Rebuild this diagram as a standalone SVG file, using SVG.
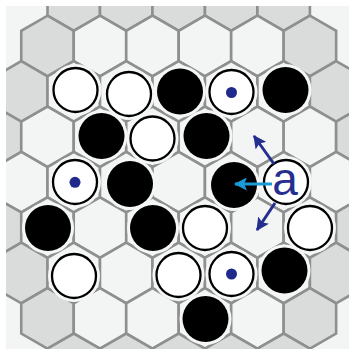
<svg xmlns="http://www.w3.org/2000/svg" xmlns:xlink="http://www.w3.org/1999/xlink" width="355" height="349" viewBox="0 0 355 349">
<style>
.g{fill:#dadbdb;stroke:#8e8f8f;stroke-width:2.6}
.l{fill:#f3f4f4;stroke:#8e8f8f;stroke-width:2.6}
.halo{fill:#f5f6f6}
.w{fill:#ffffff;stroke:#000;stroke-width:2.3}
.b{fill:#000}
.dot{fill:#202a8c}
.ab{stroke:#232e8f;stroke-width:3;fill:none}
.lb{stroke:#1c9ad8;stroke-width:3;fill:none}
.lbl{font-family:"Liberation Sans",Arial,sans-serif;font-size:46px;fill:#262f8f;text-anchor:middle}
</style>
<defs>
<polygon id="hex" points="0,-30.3 26.24,-15.15 26.24,15.15 0,30.3 -26.24,15.15 -26.24,-15.15"/>
<clipPath id="clip"><rect x="6" y="6" width="343" height="343"/></clipPath>
<marker id="mDark" viewBox="0 0 12 12" refX="11" refY="6" markerWidth="13" markerHeight="13" markerUnits="userSpaceOnUse" orient="auto"><path d="M0,0 L12,6 L0,12 L2.5,6 z" fill="#232e8f"/></marker>
<marker id="mLight" viewBox="0 0 12 12" refX="11" refY="6" markerWidth="13" markerHeight="13" markerUnits="userSpaceOnUse" orient="auto"><path d="M0,0 L12,6 L0,12 L2.5,6 z" fill="#1c9ad8"/></marker>
</defs>
<rect width="355" height="349" fill="#ffffff"/>
<g id="board" clip-path="url(#clip)">
<rect x="0" y="0" width="355" height="349" fill="#f3f4f4"/>
<use xlink:href="#hex" class="g" x="73.74" y="0.6"/><use xlink:href="#hex" class="g" x="126.22" y="0.6"/><use xlink:href="#hex" class="g" x="178.7" y="0.6"/><use xlink:href="#hex" class="g" x="231.18" y="0.6"/><use xlink:href="#hex" class="g" x="283.66" y="0.6"/>
<use xlink:href="#hex" class="g" x="47.5" y="46"/><use xlink:href="#hex" class="l" x="99.98" y="46"/><use xlink:href="#hex" class="l" x="152.46" y="46"/><use xlink:href="#hex" class="l" x="204.94" y="46"/><use xlink:href="#hex" class="l" x="257.42" y="46"/><use xlink:href="#hex" class="g" x="309.9" y="46"/>
<use xlink:href="#hex" class="g" x="21.26" y="91.4"/><use xlink:href="#hex" class="l" x="73.74" y="91.4"/><use xlink:href="#hex" class="l" x="126.22" y="91.4"/><use xlink:href="#hex" class="l" x="178.7" y="91.4"/><use xlink:href="#hex" class="l" x="231.18" y="91.4"/><use xlink:href="#hex" class="l" x="283.66" y="91.4"/><use xlink:href="#hex" class="g" x="336.14" y="91.4"/>
<use xlink:href="#hex" class="g" x="-4.98" y="136.8"/><use xlink:href="#hex" class="l" x="47.5" y="136.8"/><use xlink:href="#hex" class="l" x="99.98" y="136.8"/><use xlink:href="#hex" class="l" x="152.46" y="136.8"/><use xlink:href="#hex" class="l" x="204.94" y="136.8"/><use xlink:href="#hex" class="l" x="257.42" y="136.8"/><use xlink:href="#hex" class="l" x="309.9" y="136.8"/><use xlink:href="#hex" class="g" x="362.38" y="136.8"/>
<use xlink:href="#hex" class="g" x="-31.22" y="182.2"/><use xlink:href="#hex" class="l" x="21.26" y="182.2"/><use xlink:href="#hex" class="l" x="73.74" y="182.2"/><use xlink:href="#hex" class="l" x="126.22" y="182.2"/><use xlink:href="#hex" class="l" x="178.7" y="182.2"/><use xlink:href="#hex" class="l" x="231.18" y="182.2"/><use xlink:href="#hex" class="l" x="283.66" y="182.2"/><use xlink:href="#hex" class="l" x="336.14" y="182.2"/><use xlink:href="#hex" class="g" x="388.62" y="182.2"/>
<use xlink:href="#hex" class="g" x="-4.98" y="227.6"/><use xlink:href="#hex" class="l" x="47.5" y="227.6"/><use xlink:href="#hex" class="l" x="99.98" y="227.6"/><use xlink:href="#hex" class="l" x="152.46" y="227.6"/><use xlink:href="#hex" class="l" x="204.94" y="227.6"/><use xlink:href="#hex" class="l" x="257.42" y="227.6"/><use xlink:href="#hex" class="l" x="309.9" y="227.6"/><use xlink:href="#hex" class="g" x="362.38" y="227.6"/>
<use xlink:href="#hex" class="g" x="21.26" y="273"/><use xlink:href="#hex" class="l" x="73.74" y="273"/><use xlink:href="#hex" class="l" x="126.22" y="273"/><use xlink:href="#hex" class="l" x="178.7" y="273"/><use xlink:href="#hex" class="l" x="231.18" y="273"/><use xlink:href="#hex" class="l" x="283.66" y="273"/><use xlink:href="#hex" class="g" x="336.14" y="273"/>
<use xlink:href="#hex" class="g" x="47.5" y="318.4"/><use xlink:href="#hex" class="l" x="99.98" y="318.4"/><use xlink:href="#hex" class="l" x="152.46" y="318.4"/><use xlink:href="#hex" class="l" x="204.94" y="318.4"/><use xlink:href="#hex" class="l" x="257.42" y="318.4"/><use xlink:href="#hex" class="g" x="309.9" y="318.4"/>
<use xlink:href="#hex" class="g" x="73.74" y="363.8"/><use xlink:href="#hex" class="g" x="126.22" y="363.8"/><use xlink:href="#hex" class="g" x="178.7" y="363.8"/><use xlink:href="#hex" class="g" x="231.18" y="363.8"/><use xlink:href="#hex" class="g" x="283.66" y="363.8"/>
</g>
<g id="halos" clip-path="url(#clip)">
<circle class="halo" cx="75.5" cy="90" r="26"/><circle class="halo" cx="129" cy="94" r="26"/><circle class="halo" cx="180" cy="91.5" r="26"/><circle class="halo" cx="231.5" cy="92" r="26"/><circle class="halo" cx="285.5" cy="90" r="26"/>
<circle class="halo" cx="101.5" cy="136" r="26"/><circle class="halo" cx="152.5" cy="138.5" r="26"/><circle class="halo" cx="206.5" cy="136" r="26"/>
<circle class="halo" cx="75" cy="182" r="26"/><circle class="halo" cx="130" cy="184" r="26"/><circle class="halo" cx="234" cy="185" r="26"/><circle class="halo" cx="286" cy="182" r="26"/>
<circle class="halo" cx="48" cy="228" r="26"/><circle class="halo" cx="153" cy="228" r="26"/><circle class="halo" cx="205" cy="228" r="26"/><circle class="halo" cx="310" cy="228" r="26"/>
<circle class="halo" cx="74" cy="276" r="26"/><circle class="halo" cx="178.5" cy="275" r="26"/><circle class="halo" cx="231.5" cy="274" r="26"/><circle class="halo" cx="284.5" cy="270.5" r="26"/>
<circle class="halo" cx="205.5" cy="319" r="26"/>
</g>
<g id="stone-r2">
<circle class="w" cx="75.5" cy="90" r="22"/><circle class="w" cx="129" cy="94" r="22"/><circle class="b" cx="180" cy="91.5" r="23"/><circle class="w" cx="231.5" cy="92" r="22"/><circle class="dot" cx="231.5" cy="92.5" r="5.5"/><circle class="b" cx="285.5" cy="90" r="23"/>
</g>
<g id="stone-r3">
<circle class="b" cx="101.5" cy="136" r="23"/><circle class="w" cx="152.5" cy="138.5" r="22"/><circle class="b" cx="206.5" cy="136" r="23"/>
</g>
<g id="stone-r4">
<circle class="w" cx="75" cy="182" r="22"/><circle class="dot" cx="75" cy="182.3" r="5.5"/><circle class="b" cx="130" cy="184" r="23"/><circle class="b" cx="234" cy="185" r="23"/><circle class="w" cx="286" cy="182" r="22"/>
</g>
<g id="stone-r5">
<circle class="b" cx="48" cy="228" r="23"/><circle class="b" cx="153" cy="228" r="23"/><circle class="w" cx="205" cy="228" r="22"/><circle class="w" cx="310" cy="228" r="22"/>
</g>
<g id="stone-r6">
<circle class="w" cx="74" cy="276" r="22"/><circle class="w" cx="178.5" cy="275" r="22"/><circle class="w" cx="231.5" cy="274" r="22"/><circle class="dot" cx="231.5" cy="274" r="5.5"/><circle class="b" cx="284.5" cy="270.5" r="23"/>
</g>
<g id="stone-r7">
<circle class="b" cx="205.5" cy="319" r="23"/>
</g>
<g id="connectors">
<line class="lb" x1="272" y1="184" x2="235" y2="184" marker-end="url(#mLight)"/>
<line class="ab" x1="274" y1="164" x2="254" y2="136" marker-end="url(#mDark)"/>
<line class="ab" x1="275" y1="203" x2="257" y2="230" marker-end="url(#mDark)"/>
</g>
<g id="label-a">
<text class="lbl" x="285" y="195">a</text>
</g>
</svg>
